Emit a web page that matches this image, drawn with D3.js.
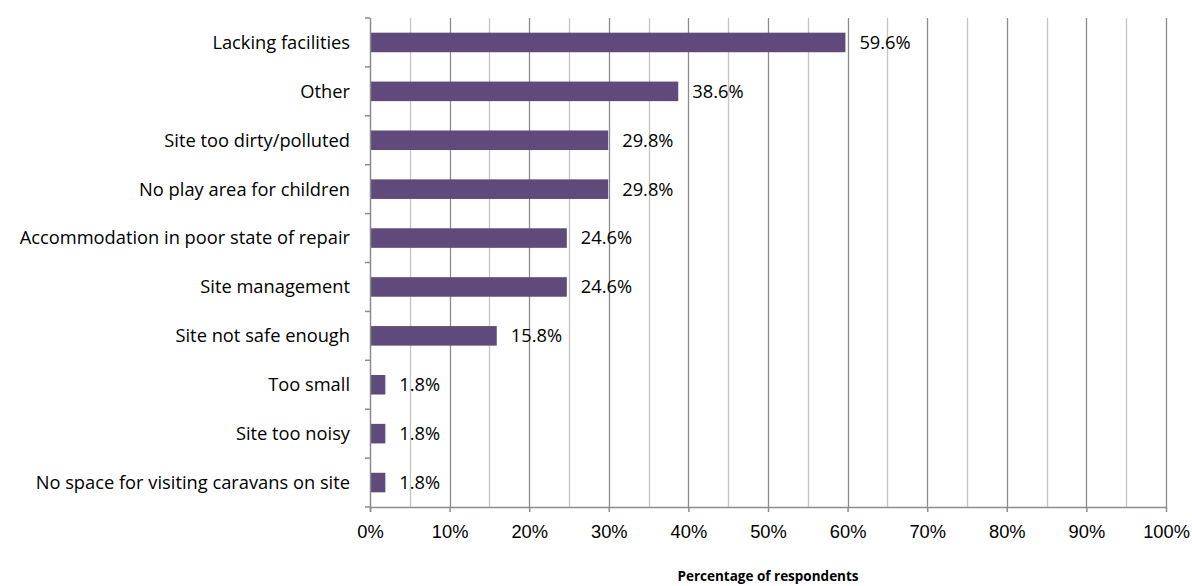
<!DOCTYPE html>
<html>
<head>
<meta charset="utf-8">
<script src="https://cdn.jsdelivr.net/npm/d3@7"></script>
<style>
  body { margin: 0; background: #fff; }
  svg { display: block; font-family: "Open Sans", sans-serif; }
</style>
</head>
<body>
<svg width="1192" height="586"></svg>
<script>
var categories = [
  "Lacking facilities",
  "Other",
  "Site too dirty/polluted",
  "No play area for children",
  "Accommodation in poor state of repair",
  "Site management",
  "Site not safe enough",
  "Too small",
  "Site too noisy",
  "No space for visiting caravans on site"
];
var values = [59.6, 38.6, 29.8, 29.8, 24.6, 24.6, 15.8, 1.8, 1.8, 1.8];
var xTicks = [0, 10, 20, 30, 40, 50, 60, 70, 80, 90, 100];
var xTitle = "Percentage of respondents";

var svg = d3.select("svg");
var margin = { top: 18, right: 26, bottom: 79, left: 370 };
var width = 1192 - margin.left - margin.right;
var height = 586 - margin.top - margin.bottom;
var g = svg.append("g").attr("transform", "translate(" + margin.left + "," + margin.top + ")");
var fs = 18.3;

var x = d3.scaleLinear().domain([0, 100]).range([0, width]);
var y = d3.scaleBand().domain(categories).range([0, height]).paddingInner(0.6).paddingOuter(0.3);
var step = height / categories.length;

// minor grid (5%)
g.selectAll(".minor")
  .data(d3.range(5, 100, 10))
  .enter().append("line")
  .attr("x1", function (d) { return Math.round(x(d)) + 0.5; })
  .attr("x2", function (d) { return Math.round(x(d)) + 0.5; })
  .attr("y1", 0).attr("y2", height)
  .attr("stroke", "#c4c4c4").attr("stroke-width", 1.3);

// major grid (10%)
g.selectAll(".major")
  .data(xTicks.slice(1))
  .enter().append("line")
  .attr("x1", function (d) { return Math.round(x(d)) + 0.5; })
  .attr("x2", function (d) { return Math.round(x(d)) + 0.5; })
  .attr("y1", 0).attr("y2", height)
  .attr("stroke", "#8c8c8c").attr("stroke-width", 1.3);

// bars
g.selectAll(".bar")
  .data(values)
  .enter().append("rect")
  .attr("x", 1)
  .attr("y", function (d, i) { return y(categories[i]); })
  .attr("width", function (d) { return x(d); })
  .attr("height", y.bandwidth())
  .attr("fill", "#604a7b");

// value labels
g.selectAll(".val")
  .data(values)
  .enter().append("text")
  .attr("x", function (d) { return x(d) + 15; })
  .attr("y", function (d, i) { return y(categories[i]) + y.bandwidth() / 2; })
  .attr("dy", "0.35em")
  .attr("font-size", fs)
  .attr("fill", "#000")
  .text(function (d) { return d.toFixed(1) + "%"; });

// x axis
var xAxis = g.append("g")
  .attr("transform", "translate(0," + height + ")")
  .call(d3.axisBottom(x).tickValues(xTicks).tickFormat(function (d) { return d + "%"; }).tickSizeInner(5).tickSizeOuter(0).tickPadding(13));
xAxis.select(".domain").attr("stroke", "#8c8c8c").attr("stroke-width", 1.5);
xAxis.selectAll(".tick line").attr("stroke", "#8c8c8c").attr("stroke-width", 1.5);
xAxis.selectAll("text").attr("font-size", fs).attr("fill", "#000").attr("font-family", null);

// y axis line with boundary ticks
g.append("line")
  .attr("x1", 0.5).attr("x2", 0.5).attr("y1", 0).attr("y2", height + 5)
  .attr("stroke", "#8c8c8c").attr("stroke-width", 1.5);
g.selectAll(".ytick")
  .data(d3.range(categories.length + 1))
  .enter().append("line")
  .attr("x1", -5).attr("x2", 0)
  .attr("y1", function (d) { return d * step; })
  .attr("y2", function (d) { return d * step; })
  .attr("stroke", "#8c8c8c").attr("stroke-width", 1.5);

// category labels
g.selectAll(".cat")
  .data(categories)
  .enter().append("text")
  .attr("x", -20)
  .attr("y", function (d) { return y(d) + y.bandwidth() / 2; })
  .attr("dy", "0.35em")
  .attr("text-anchor", "end")
  .attr("font-size", fs)
  .attr("fill", "#000")
  .text(function (d) { return d; });

// axis title
svg.append("text")
  .attr("x", margin.left + width / 2)
  .attr("y", 581)
  .attr("text-anchor", "middle")
  .attr("font-size", 13.5)
  .attr("font-weight", "bold")
  .attr("fill", "#000")
  .text(xTitle);
</script>
</body>
</html>
